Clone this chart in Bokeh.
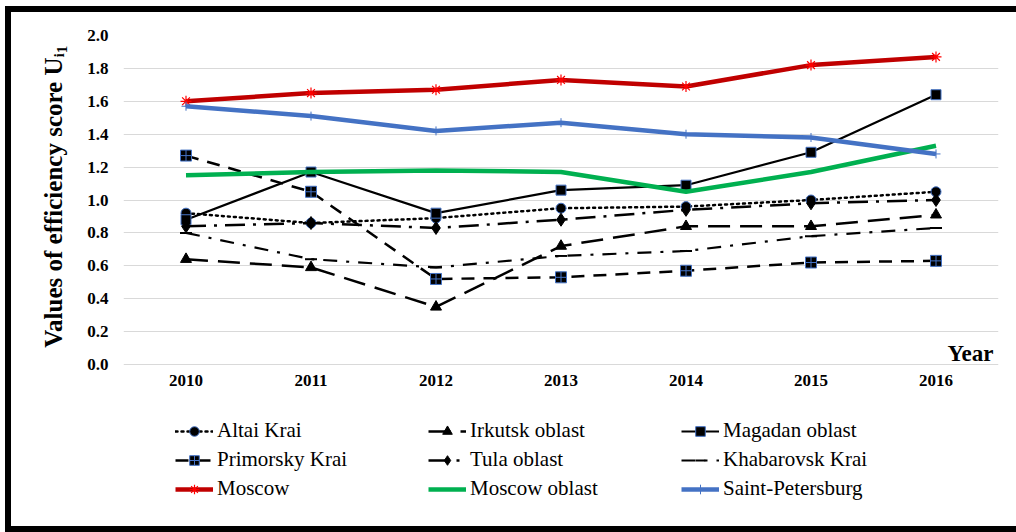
from bokeh.plotting import figure
from bokeh.models import Range1d, FixedTicker, Legend, LegendItem, Label, NumeralTickFormatter
from bokeh.embed import file_html
from bokeh.resources import INLINE

years = [2010, 2011, 2012, 2013, 2014, 2015, 2016]
altai = [0.92, 0.86, 0.89, 0.95, 0.96, 1.00, 1.05]
irkutsk = [0.64, 0.59, 0.35, 0.72, 0.84, 0.84, 0.91]
magadan = [0.88, 1.17, 0.92, 1.06, 1.09, 1.29, 1.64]
primorsky = [1.27, 1.05, 0.52, 0.53, 0.57, 0.62, 0.63]
tula = [0.84, 0.86, 0.83, 0.88, 0.94, 0.98, 1.00]
khabarovsk = [0.80, 0.64, 0.59, 0.66, 0.69, 0.78, 0.83]
moscow = [1.60, 1.65, 1.67, 1.73, 1.69, 1.82, 1.87]
moscow_obl = [1.15, 1.17, 1.18, 1.17, 1.05, 1.17, 1.33]
spb = [1.57, 1.51, 1.42, 1.47, 1.40, 1.38, 1.28]
y_ticks = [0.0, 0.2, 0.4, 0.6, 0.8, 1.0, 1.2, 1.4, 1.6, 1.8, 2.0]

SERIF = "Liberation Serif"

# layout (pixels): plot area 329 px tall for 0..2, extended 162 px below for the legend
PX_PER_UNIT = 329 / 2.0
EXTRA_BELOW = 162
y_min = -EXTRA_BELOW / PX_PER_UNIT

p = figure(width=1005, height=514, output_backend="svg", toolbar_location=None,
           x_range=Range1d(2009.5, 2016.5), y_range=Range1d(y_min, 2.0),
           min_border_left=112, min_border_right=24, min_border_top=23, min_border_bottom=12)
p.styles = {"border-left": "6px solid black", "border-top": "6px solid black",
            "border-bottom": "6px solid black", "box-sizing": "content-box",
            "margin-left": "5px", "margin-top": "6px"}
p.outline_line_color = None
p.background_fill_color = "white"
p.border_fill_color = "white"

p.xgrid.grid_line_color = None
p.ygrid.grid_line_color = "#d9d9d9"
p.ygrid.grid_line_width = 1

p.xaxis.ticker = FixedTicker(ticks=years)
p.xaxis.fixed_location = 0
p.yaxis.ticker = FixedTicker(ticks=y_ticks)
p.yaxis.bounds = (0, 2.0)
p.yaxis.formatter = NumeralTickFormatter(format="0.0")
for ax in (p.xaxis, p.yaxis):
    ax.axis_line_color = None
    ax.major_tick_line_color = None
    ax.minor_tick_line_color = None
    ax.major_tick_in = 0
    ax.major_tick_out = 0
    ax.minor_tick_in = 0
    ax.minor_tick_out = 0
    ax.major_label_text_font = SERIF
    ax.major_label_text_font_style = "bold"
    ax.major_label_text_font_size = "17px"
    ax.major_label_text_color = "black"
p.yaxis.major_label_standoff = 15
p.xaxis.major_label_standoff = 10

# the title is centred on the whole (extended) frame; leading no-break spaces lift it
# so that it sits beside the 0..2 plot area as in the reference
p.yaxis.axis_label = "\u00a0" * 27 + "Values of efficiency score U\u1d62\u2081"
p.yaxis.axis_label_text_font = SERIF
p.yaxis.axis_label_text_font_style = "bold"
p.yaxis.axis_label_text_font_size = "25px"
p.yaxis.axis_label_text_color = "black"
p.yaxis.axis_label_standoff = 17

BLUE_EDGE = "#4472c4"

r_altai_l = p.line(years, altai, line_color="black", line_width=2.5, line_dash="2 4", line_cap="round")
r_altai_m = p.scatter(years, altai, marker="circle", size=10, fill_color="black", line_color=BLUE_EDGE, line_width=1)

r_irk_l = p.line(years, irkutsk, line_color="black", line_width=2.5, line_dash="22 10")
r_irk_m = p.scatter(years, irkutsk, marker="triangle", size=11, fill_color="black", line_color="black")

r_mag_l = p.line(years, magadan, line_color="black", line_width=2.2)
r_mag_m = p.scatter(years, magadan, marker="square", size=10, fill_color="black", line_color=BLUE_EDGE, line_width=1)

r_pri_l = p.line(years, primorsky, line_color="black", line_width=2.5, line_dash="13 9")
r_pri_m = p.scatter(years, primorsky, marker="square_cross", size=11, fill_color="black", line_color=BLUE_EDGE, line_width=1)

r_tula_l = p.line(years, tula, line_color="black", line_width=2.5, line_dash="20 8 3 8")
r_tula_m = p.scatter(years, tula, marker="diamond", size=13, fill_color="black", line_color="black")

r_kha_l = p.line(years, khabarovsk, line_color="black", line_width=2.2, line_dash="14 9 3 9")
r_kha_m = p.scatter(years, khabarovsk, marker="dash", size=12, line_color="black", line_width=2)

r_mos_l = p.line(years, moscow, line_color="#c00000", line_width=4.5)
r_mos_m = p.scatter(years, moscow, marker="asterisk", size=11, line_color="#ff0000", line_width=1.2)

r_mo_l = p.line(years, moscow_obl, line_color="#00b050", line_width=4.5)

r_spb_l = p.line(years, spb, line_color="#4472c4", line_width=4.5)
r_spb_m = p.scatter(years, spb, marker="cross", size=9, line_color="#4472c4", line_width=1)

items = [
    LegendItem(label="Altai Krai", renderers=[r_altai_l, r_altai_m]),
    LegendItem(label="Irkutsk oblast", renderers=[r_irk_l, r_irk_m]),
    LegendItem(label="Magadan oblast", renderers=[r_mag_l, r_mag_m]),
    LegendItem(label="Primorsky Krai", renderers=[r_pri_l, r_pri_m]),
    LegendItem(label="Tula oblast", renderers=[r_tula_l, r_tula_m]),
    LegendItem(label="Khabarovsk Krai", renderers=[r_kha_l, r_kha_m]),
    LegendItem(label="Moscow", renderers=[r_mos_l, r_mos_m]),
    LegendItem(label="Moscow oblast", renderers=[r_mo_l]),
    LegendItem(label="Saint-Petersburg", renderers=[r_spb_l, r_spb_m]),
]
legend = Legend(items=items, location=(52, 25), orientation="horizontal", ncols=3,
                label_text_font=SERIF, label_text_font_size="21px", label_text_color="black",
                glyph_width=38, glyph_height=24, label_height=24, label_width=207,
                label_standoff=4, spacing=4, padding=0, margin=0,
                border_line_alpha=0, background_fill_alpha=0)
p.add_layout(legend, "center")

p.add_layout(Label(x=2016.46, y=0.067, text="Year", text_font=SERIF, text_font_style="bold",
                   text_font_size="23px", text_align="right", text_baseline="alphabetic",
                   text_color="black"))

open("out.html", "w").write(file_html(p, INLINE))
